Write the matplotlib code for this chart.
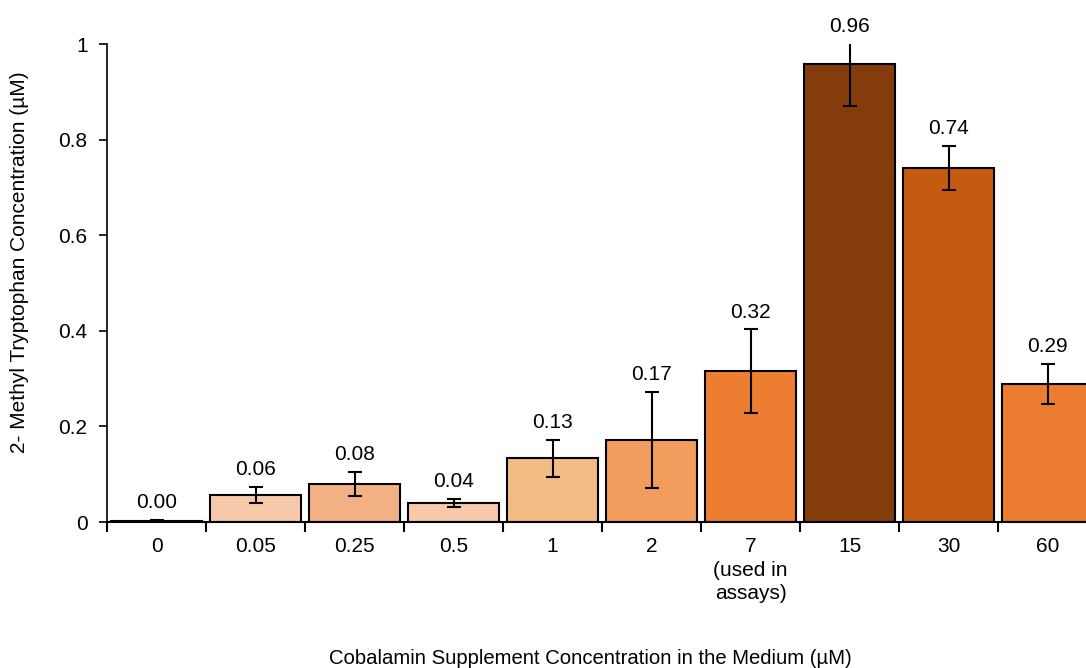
import matplotlib
matplotlib.use("Agg")
import matplotlib.pyplot as plt
import numpy as np

categories = ["0", "0.05", "0.25", "0.5", "1", "2", "7\n(used in\nassays)", "15", "30", "60"]
values = [0.003, 0.057, 0.079, 0.040, 0.133, 0.172, 0.315, 0.958, 0.741, 0.289]
errors = [0.002, 0.017, 0.025, 0.009, 0.039, 0.100, 0.088, 0.088, 0.046, 0.042]
value_labels = ["0.00", "0.06", "0.08", "0.04", "0.13", "0.17", "0.32", "0.96", "0.74", "0.29"]
colors = ["#1a1a1a", "#F7C9AA", "#F2B084", "#F7C9AA", "#F4BC85", "#F29C5E",
          "#ED7D31", "#843C0C", "#C55A11", "#ED7D31"]
y_ticks = [0, 0.2, 0.4, 0.6, 0.8, 1]
y_tick_labels = ["0", "0.2", "0.4", "0.6", "0.8", "1"]

plt.rcParams["font.family"] = ["Liberation Sans", "DejaVu Sans"]

W, H = 1086, 668
fig = plt.figure(figsize=(W / 100, H / 100), dpi=100)
ax = fig.add_axes([107 / W, 146 / H, (1097 - 107) / W, (522 - 44) / H])

x = np.arange(len(categories))
ax.bar(x, values, width=0.91, color=colors, edgecolor="black", linewidth=1.5, zorder=2)
ax.errorbar(x, values, yerr=errors, fmt="none", ecolor="black", elinewidth=1.5,
            capsize=5, capthick=1.5, zorder=3)

for xi, v, e, lab in zip(x, values, errors, value_labels):
    ax.annotate(lab, (xi, min(v + e, 1.0)), xytext=(0, 12.5), textcoords="offset points",
                ha="center", va="center", fontsize=15, annotation_clip=False)

ax.set_xlim(-0.5, len(categories) - 0.5)
ax.set_ylim(0, 1)
ax.set_yticks(y_ticks)
ax.set_yticklabels(y_tick_labels, fontsize=15)

ax.set_xticks(np.arange(len(categories) + 1) - 0.5)
ax.set_xticklabels([])
ax.set_xticks(x, minor=True)
ax.set_xticklabels(categories, minor=True, fontsize=15)
for t in ax.get_xticklabels(minor=True):
    t.set_linespacing(1.3)
ax.tick_params(axis="x", which="major", direction="out", length=7, width=1.5)
ax.tick_params(axis="x", which="minor", length=0, pad=11)
ax.tick_params(axis="y", direction="out", length=6, width=1.2, pad=8)

for s in ["top", "right"]:
    ax.spines[s].set_visible(False)
ax.spines["left"].set_linewidth(1.2)
ax.spines["bottom"].set_linewidth(1.5)

fig.text(20 / W, 1 - 262 / H, "2- Methyl Tryptophan Concentration (µM)",
         rotation=90, ha="center", va="center", fontsize=15)
fig.text(590 / W, 1 - 658 / H, "Cobalamin Supplement Concentration in the Medium (µM)",
         ha="center", va="center", fontsize=14.6)

fig.savefig("out.png", dpi=100)
